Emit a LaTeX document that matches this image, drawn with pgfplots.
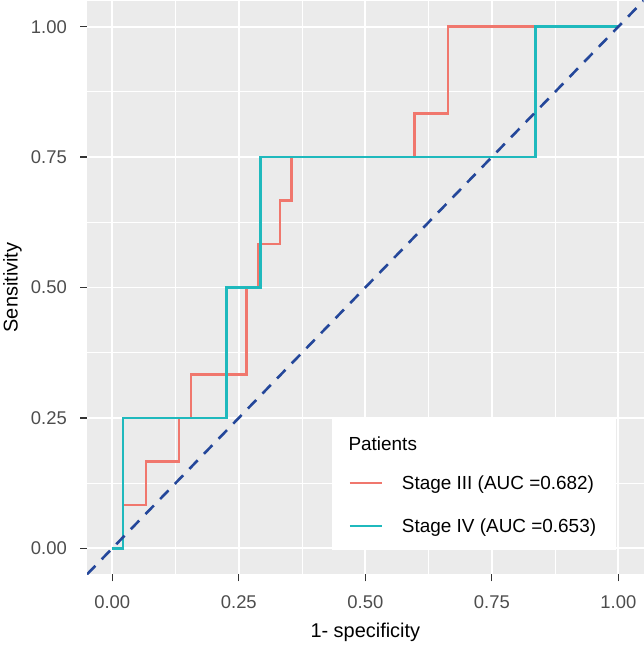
\documentclass[border=0pt]{standalone}
\usepackage{pgfplots}
\pgfplotsset{compat=1.18}
\usepackage{fontspec}
\setmainfont{Liberation Sans}
\usetikzlibrary{calc}

\definecolor{panelbg}{HTML}{EBEBEB}
\definecolor{stageIII}{HTML}{F0776D}
\definecolor{stageIV}{HTML}{1FB9BD}
\definecolor{diag}{HTML}{24479A}
\definecolor{ticklab}{HTML}{4D4D4D}
\definecolor{tickcol}{HTML}{333333}

\newcommand{\ticksize}{\fontsize{18.5}{20}\selectfont}
\newcommand{\titlesize}{\fontsize{20}{23}\selectfont}
\newcommand{\legsize}{\fontsize{19}{22}\selectfont}

\begin{document}
\begin{tikzpicture}
\begin{axis}[
  name=ax,
  x=506bp, y=521.6bp,
  xmin=-0.05, xmax=1.05, ymin=-0.05, ymax=1.05,
  axis background/.style={fill=panelbg},
  axis line style={draw=none},
  xtick={0,0.25,0.5,0.75,1},
  ytick={0,0.25,0.5,0.75,1},
  minor xtick={0.125,0.375,0.625,0.875},
  minor ytick={0.125,0.375,0.625,0.875},
  grid=both,
  major grid style={white, line width=1.8bp},
  minor grid style={white, line width=0.9bp},
  tick align=outside, xtick pos=left, ytick pos=left,
  major tick length=7bp, minor tick length=0bp,
  major tick style={tickcol, line width=1.2bp},
  /pgf/number format/fixed,
  /pgf/number format/fixed zerofill,
  /pgf/number format/precision=2,
  /pgf/number format/assume math mode=true,
  ticklabel style={font=\ticksize, color=ticklab, inner sep=0pt},
  xticklabel style={anchor=north, yshift=-13.6bp},
  yticklabel style={anchor=east, xshift=-13bp},
  xlabel={1- specificity},
  xlabel style={at={(axis description cs:0.5,0)}, anchor=north,
    inner sep=0pt, yshift=-48.5bp, font=\titlesize},
  legend cell align=left,
  legend image code/.code={\draw[#1] (0bp,6.8bp) -- (32bp,6.8bp);},
  legend style={at={(axis cs:0.4665,0.1394)}, anchor=north west,
    draw=none, fill=none, inner sep=0pt, column sep=19bp, row sep=25bp,
    nodes={inner sep=0pt, text height=14bp, text depth=4bp,
      font=\legsize, anchor=base west}},
]
% legend background box and title
\fill[white] (axis cs:0.435,-0.003) rectangle (axis cs:0.996,0.2506);
\node[anchor=base west, inner sep=0pt, font=\legsize]
  at (axis cs:0.4665,0.1875) {Patients};

\addplot[stageIII, line width=2.4bp] coordinates {
  (0,0) (0.0217,0) (0.0217,0.0833) (0.0663,0.0833) (0.0663,0.1667)
  (0.132,0.1667) (0.132,0.25) (0.155,0.25) (0.155,0.3333)
  (0.265,0.3333) (0.265,0.5) (0.288,0.5) (0.288,0.5833)
  (0.331,0.5833) (0.331,0.6667) (0.354,0.6667) (0.354,0.75)
  (0.597,0.75) (0.597,0.8333) (0.663,0.8333) (0.663,1) (1,1)
};
\addlegendentry{Stage III (AUC =0.682)}

\addplot[stageIV, line width=2.4bp] coordinates {
  (0,0) (0.0217,0) (0.0217,0.25) (0.226,0.25) (0.226,0.5)
  (0.293,0.5) (0.293,0.75) (0.836,0.75) (0.836,1) (1,1)
};
\addlegendentry{Stage IV (AUC =0.653)}

\addplot[diag, line width=2.6bp, dash pattern=on 12bp off 9bp, forget plot]
  coordinates {(-0.05,-0.05) (1.05,1.05)};
\end{axis}

\node[rotate=90, anchor=north, inner sep=0pt, font=\titlesize]
  at ($(ax.west)+(-84bp,0)$) {Sensitivity};

\pgfresetboundingbox
\path ($(ax.south west)+(-87bp,-70.6bp)$) rectangle ($(ax.north east)+(0bp,0.6bp)$);
\end{tikzpicture}
\end{document}
